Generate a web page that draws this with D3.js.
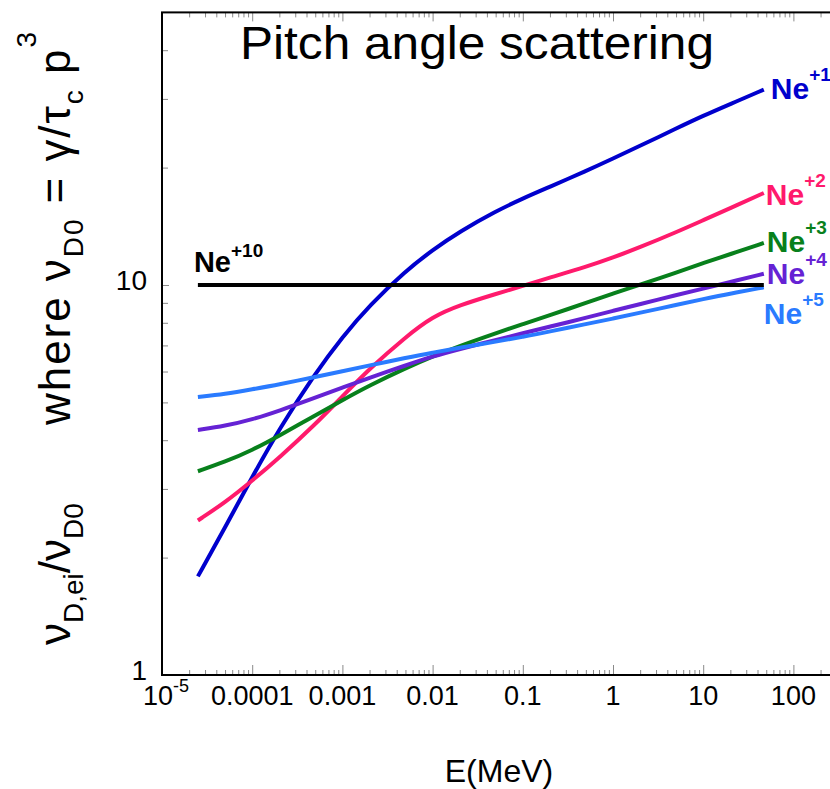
<!DOCTYPE html>
<html><head><meta charset="utf-8">
<script src="https://cdn.jsdelivr.net/npm/d3@7"></script>
<style>body{margin:0;background:#fff}svg{display:block}</style>
</head><body>
<svg id="chart" width="830" height="789"></svg>
<script>
// ---------------- data ----------------
const energy = [2.5e-5,5e-5,1e-4,2e-4,5e-4,1e-3,2e-3,5e-3,1e-2,2e-2,5e-2,0.1,0.2,0.5,1,2,5,10,20,47];
const ne1 = [1.79,2.39,3.22,4.28,5.94,7.36,8.87,10.86,12.3,13.71,15.45,16.67,17.86,19.59,21.09,22.75,25.18,27.16,29.11,31.7];
const ne2 = [2.49,2.77,3.15,3.61,4.39,5.18,6.1,7.35,8.3,8.88,9.48,9.95,10.45,11.12,11.75,12.5,13.65,14.66,15.74,17.22];
const ne3 = [3.33,3.52,3.77,4.11,4.63,5.07,5.53,6.12,6.56,6.98,7.52,7.94,8.37,8.99,9.51,10.02,10.76,11.38,12.0,12.82];
const ne4 = [4.25,4.35,4.52,4.76,5.14,5.46,5.78,6.22,6.56,6.85,7.23,7.52,7.82,8.24,8.59,8.93,9.42,9.79,10.18,10.69];
const ne5 = [5.16,5.25,5.4,5.56,5.81,6.01,6.22,6.5,6.71,6.9,7.16,7.36,7.6,7.94,8.2,8.49,8.89,9.2,9.51,9.86];
const ne10Energy = [2.5e-5, 47];
const ne10 = [10, 10];
const seriesCharges = ["+1","+2","+3","+4","+5"];
const xTickValues = [1e-5,1e-4,1e-3,1e-2,1e-1,1,10,100];
const xTickLabels = ["10^-5","0.0001","0.001","0.01","0.1","1","10","100"];
const yTickValues = [1,10];
const yTickLabels = ["1","10"];

// ---------------- styles / layout ----------------
const colors = ["#0000cd","#ff1a6c","#08801c","#6522d4","#2a7bff"];
const labelOffsets = [{dx:7,dy:9},{dx:2,dy:12},{dx:3,dy:9},{dx:3,dy:10},{dx:0,dy:37}];
const FONT = "'Liberation Sans', Arial, Helvetica, sans-serif";

const svg = d3.select("#chart");
const x = d3.scaleLog().domain([1e-5, 1e3]).range([162, 162 + 8*90.2]);
const y = d3.scaleLog().domain([1, 50]).range([675, 12.4]);

const xMinor = [];
for (let d = -5; d <= 2; d++) for (let k = 2; k <= 9; k++) xMinor.push(k*Math.pow(10,d));
xMinor.push(1000);
const yMinor = [2,3,4,5,6,7,8,9,20,30,40];

function styleAxis(g){
  g.select(".domain").remove();
  g.selectAll(".tick line").attr("stroke","#8a8a8a").attr("stroke-width",1);
  g.selectAll(".tick text").remove();
}
svg.append("g").attr("transform","translate(0,675)")
  .call(d3.axisBottom(x).tickValues(xMinor).tickSize(-5).tickFormat("")).call(styleAxis);
svg.append("g").attr("transform","translate(0,675)")
  .call(d3.axisBottom(x).tickValues(xTickValues.concat([1000])).tickSize(-10).tickFormat("")).call(styleAxis);
svg.append("g").attr("transform","translate(0,12.4)")
  .call(d3.axisTop(x).tickValues(xMinor).tickSize(-5).tickFormat("")).call(styleAxis);
svg.append("g").attr("transform","translate(0,12.4)")
  .call(d3.axisTop(x).tickValues(xTickValues.concat([1000])).tickSize(-9).tickFormat("")).call(styleAxis);
svg.append("g").attr("transform","translate(162,0)")
  .call(d3.axisLeft(y).tickValues(yMinor).tickSize(-6).tickFormat("")).call(styleAxis);
svg.append("g").attr("transform","translate(162,0)")
  .call(d3.axisLeft(y).tickValues(yTickValues).tickSize(-7).tickFormat("")).call(styleAxis);

svg.append("rect").attr("x",162).attr("y",12.4)
  .attr("width", x(1000)-162).attr("height", 675-12.4)
  .attr("fill","none").attr("stroke","#000").attr("stroke-width",2);

// x tick labels
xTickValues.forEach((v,i)=>{
  const lab = xTickLabels[i];
  const t = svg.append("text").attr("y",705).attr("font-family",FONT).attr("font-size",27)
    .attr("text-anchor","middle").attr("fill","#000");
  if (lab.includes("^")) {
    const [b,e] = lab.split("^");
    t.attr("x", x(v)+4);
    t.append("tspan").text(b);
    t.append("tspan").attr("dy",-13).attr("font-size",18).text(e);
  } else {
    t.attr("x", x(v)).text(lab);
  }
});
// y tick labels
yTickValues.forEach((v,i)=>{
  svg.append("text").attr("x",147).attr("y",y(v)+5)
    .attr("font-family",FONT).attr("font-size",28).attr("text-anchor","end").text(yTickLabels[i]);
});

// lines
const line = d3.line().x(d=>x(d[0])).y(d=>y(d[1])).curve(d3.curveBasis);
const seriesData = [ne1,ne2,ne3,ne4,ne5];
seriesData.forEach((vals,i)=>{
  const pts = energy.map((e,j)=>[e,vals[j]]);
  svg.append("path").attr("d",line(pts)).attr("fill","none")
    .attr("stroke",colors[i]).attr("stroke-width",4);
});
svg.append("path").attr("d", line(ne10Energy.map((e,j)=>[e,ne10[j]])))
  .attr("fill","none").attr("stroke","#000").attr("stroke-width",4);

// series labels
seriesData.forEach((vals,i)=>{
  const ex = x(energy[energy.length-1]) + labelOffsets[i].dx;
  const ey = y(vals[vals.length-1]) + labelOffsets[i].dy;
  const t = svg.append("text").attr("x",ex).attr("y",ey).attr("font-family",FONT)
    .attr("font-weight","bold").attr("font-size",30).attr("fill",colors[i]);
  t.append("tspan").text("Ne");
  t.append("tspan").attr("dy",-18).attr("font-size",19).text(seriesCharges[i]);
});
{
  const t = svg.append("text").attr("x", x(ne10Energy[0]) - 4).attr("y", y(10) - 13)
    .attr("font-family",FONT).attr("font-weight","bold").attr("font-size",29).attr("fill","#000");
  t.append("tspan").text("Ne");
  t.append("tspan").attr("dy",-15).attr("font-size",19).text("+10");
}

// title
svg.append("text").attr("x",240).attr("y",59).attr("font-family",FONT).attr("font-size",46)
  .attr("textLength",474).attr("lengthAdjust","spacingAndGlyphs").text("Pitch angle scattering");

// x axis title
svg.append("text").attr("x",499).attr("y",782).attr("font-family",FONT).attr("font-size",32)
  .attr("text-anchor","middle").text("E(MeV)");

// y axis title (two parts, rotated)
function yTitle(startY, parts, len){
  const t = svg.append("text").attr("transform",`translate(70,${startY}) rotate(-90)`)
    .attr("font-family",FONT).attr("font-size",44);
  if (len) t.attr("textLength",len).attr("lengthAdjust","spacing");
  let cur = 0;
  parts.forEach(p=>{
    const target = p.s==="sub" ? 13 : p.s==="sup" ? -34 : 0;
    const ts = t.append("tspan").attr("dy", target-cur).text(p.t);
    if (p.s) ts.attr("font-size",28);
    cur = target;
  });
}
yTitle(645, [{t:"ν"},{t:"D,ei",s:"sub"},{t:"/ν"},{t:"D0",s:"sub"}]);
yTitle(425, [{t:"where ν"},{t:"D0",s:"sub"},{t:" = γ/τ"},{t:"c",s:"sub"},{t:" p"},{t:"3",s:"sup"}], 393);
</script>
</body></html>
